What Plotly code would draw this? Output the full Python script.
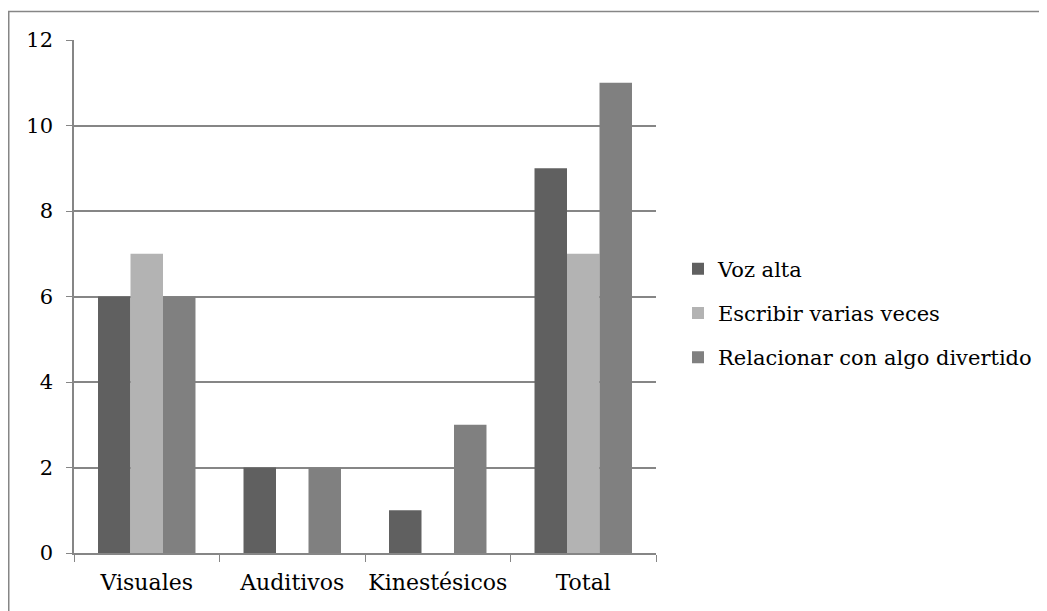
import plotly.graph_objects as go

categories = ["Visuales", "Auditivos", "Kinestésicos", "Total"]
voz_alta = [6, 2, 1, 9]
escribir = [7, 0, 0, 7]
relacionar = [6, 2, 3, 11]
series_names = ["Voz alta", "Escribir varias veces", "Relacionar con algo divertido"]
colors = ["#606060", "#b3b3b3", "#808080"]

# figure-pixel layout (page body adds an 8px offset)
W, H = 1047, 611
L, R, T, B = 66, 399, 32, 66
pw, ph = W - L - R, H - T - B

fig = go.Figure()
for i, (name, vals) in enumerate(zip(series_names, [voz_alta, escribir, relacionar])):
    fig.add_trace(go.Bar(x=categories, y=vals, name=name, marker_color=colors[i],
                         marker_line_width=0, legendgroup=str(i)))

font = dict(family="DejaVu Serif", size=21, color="#000000")
xfont = dict(family="DejaVu Serif", size=22, color="#000000")
fig.update_layout(
    width=W, height=H,
    margin=dict(l=L, r=R, t=T, b=B, pad=0, autoexpand=False),
    paper_bgcolor="white", plot_bgcolor="white",
    font=font,
    barmode="group", bargap=0.33, bargroupgap=0,
    showlegend=True,
    legend=dict(x=(670 - L) / pw, xanchor="left", y=(H - B - 305) / ph, yanchor="middle",
                font=font, tracegroupgap=14, bgcolor="rgba(0,0,0,0)", itemwidth=30),
    xaxis=dict(showline=True, linecolor="#868686", linewidth=1.5, ticks="outside", ticklen=7,
               tickcolor="#868686", tickson="boundaries", showgrid=False, ticklabelstandoff=9,
               tickangle=0, automargin=False, tickfont=xfont),
    yaxis=dict(range=[0, 12], dtick=2, showline=True, linecolor="#868686", linewidth=1.5,
               ticks="outside", ticklen=6, tickcolor="#868686", showgrid=True,
               gridcolor="#868686", gridwidth=1.5, zeroline=False, ticklabelstandoff=9,
               automargin=False, tickfont=font),
    shapes=[dict(type="rect", xref="paper", yref="paper",
                 x0=(0.75 - L) / pw, x1=(W + 20 - L) / pw,
                 y0=-(B + 20) / ph, y1=(H - B - 3.5) / ph,
                 line=dict(color="#868686", width=1.5), fillcolor="rgba(0,0,0,0)", layer="below")],
)
fig.write_html("out.html")
